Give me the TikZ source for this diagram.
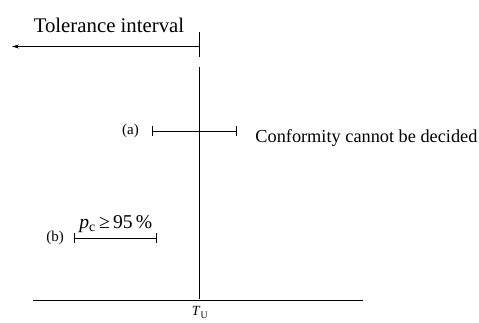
\documentclass[tikz,border=0pt]{standalone}
\usepackage{fontspec}
\setmainfont{Liberation Serif}
\usetikzlibrary{arrows.meta}

\begin{document}
\begin{tikzpicture}[x=1pt, y=-1pt, >={Stealth[length=7pt,width=4pt]}, line width=0.8pt,
  interval/.style={{Bar[width=10pt]}-{Bar[width=10pt]}},
  bigtext/.style={font=\fontsize{18.3}{22}\selectfont, inner sep=0pt},
  smalltext/.style={font=\fontsize{15}{17}\selectfont, inner sep=0pt}]
  \useasboundingbox (0,0) rectangle (479,322);
  % upper limit T_U
  \coordinate (limtop) at (199,32);
  \coordinate (limgap) at (199,57);
  \coordinate (limres) at (199,67);
  \coordinate (limfoot) at (199,299);
  \coordinate (arrstart) at (199,46.5);
  \coordinate (arrend) at (12,46.5);
  \draw (limtop) -- (limgap);
  \draw (limres) -- (limfoot);
  \draw[->] (arrstart) -- (arrend);
  \node[bigtext, font=\fontsize{20.8}{24}\selectfont, anchor=base] (tol) at (109,32) {Tolerance interval};
  % axis
  \coordinate (axl) at (33,300);
  \coordinate (axr) at (363,300);
  \draw (axl) -- (axr);
  \node[smalltext, font=\fontsize{14}{16}\selectfont] (tu) at (200,312.5) {\textit{T}\textsubscript{U}};
  % case (a)
  \coordinate (al) at (152,131);
  \coordinate (ar) at (237,131);
  \draw[interval] (al) -- (ar);
  \node[smalltext] (alab) at (130.5,131) {(a)};
  \node[bigtext, anchor=base west] (amsg) at (255,142) {Conformity cannot be decided};
  % case (b)
  \coordinate (bl) at (74,238);
  \coordinate (br) at (157,238);
  \draw[interval] (bl) -- (br);
  \node[smalltext] (blab) at (55,238) {(b)};
  \node[bigtext, font=\fontsize{19.6}{22}\selectfont, anchor=base west] (pc) at (79,228) {\textit{p}\textsubscript{c}\,≥\,95\,\%};
\end{tikzpicture}
\end{document}
